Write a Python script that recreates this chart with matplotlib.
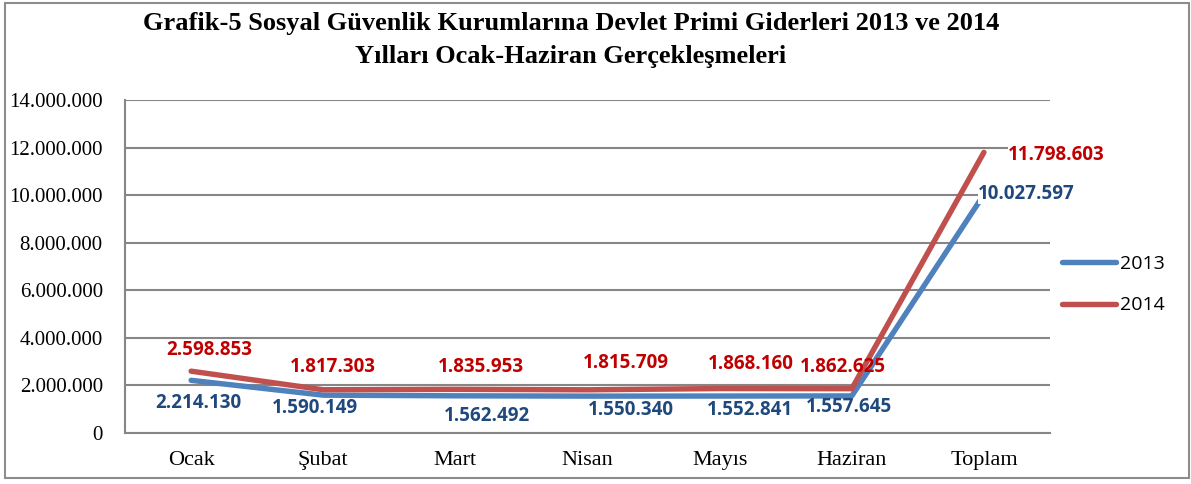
import matplotlib
matplotlib.use("Agg")
import matplotlib.pyplot as plt
from matplotlib.patches import Rectangle
from matplotlib.ticker import FuncFormatter

months = ["Ocak", "Şubat", "Mart", "Nisan", "Mayıs", "Haziran", "Toplam"]
y2013 = [2214130, 1590149, 1562492, 1550340, 1552841, 1557645, 10027597]
y2014 = [2598853, 1817303, 1835953, 1815709, 1868160, 1862625, 11798603]
label_2013 = ["2.214.130", "1.590.149", "1.562.492", "1.550.340", "1.552.841", "1.557.645", "10.027.597"]
label_2014 = ["2.598.853", "1.817.303", "1.835.953", "1.815.709", "1.868.160", "1.862.625", "11.798.603"]

# label offsets in pixels (dx, dy) from each point, as placed in the original
off_2013 = [(7, -23), (-8, -13), (32, -20), (43, -14), (30, -14), (-3, -11), (42, 0)]
off_2014 = [(18, 21), (10, 23), (26, 22), (38, 27), (31, 25), (-9, 22), (72, -3)]

BLUE = "#4F81BD"
RED = "#C0504D"
GRID = "#868686"

fig = plt.figure(figsize=(11.91, 4.84), dpi=100)
fig.patches.append(Rectangle((0.004, 0.012), 0.994, 0.982, transform=fig.transFigure,
                             fill=False, edgecolor="#8c8c8c", linewidth=1.5))

ax = fig.add_axes([0.105, 0.1054, 0.7766, 0.688])
x = range(len(months))
ax.plot(x, y2013, color=BLUE, linewidth=3.9, solid_capstyle="round", label="2013", zorder=3)
ax.plot(x, y2014, color=RED, linewidth=3.9, solid_capstyle="round", label="2014", zorder=3)

lab_font = dict(family="Open Sans", fontweight="bold", fontsize=13.5)
for i in x:
    ax.annotate(label_2013[i], (i, y2013[i]), xytext=off_2013[i], textcoords="offset pixels",
                ha="center", va="center", color="#1F497D", zorder=4,
                bbox=dict(facecolor="white", edgecolor="none", pad=0) if i == 6 else None,
                **lab_font)
    ax.annotate(label_2014[i], (i, y2014[i]), xytext=off_2014[i], textcoords="offset pixels",
                ha="center", va="center", color="#C00000", zorder=4,
                bbox=dict(facecolor="white", edgecolor="none", pad=0) if i == 6 else None,
                **lab_font)

ax.set_xlim(-0.5, 6.5)
ax.set_ylim(0, 14000000)
ax.set_yticks(range(0, 14000001, 2000000))
ax.yaxis.set_major_formatter(FuncFormatter(lambda v, p: f"{int(v):,}".replace(",", ".")))
ax.set_xticks(list(x))
ax.set_xticklabels(months)
for lbl in ax.get_xticklabels():
    lbl.set_family("Liberation Serif")
    lbl.set_fontsize(16)
for lbl in ax.get_yticklabels():
    lbl.set_family("Liberation Serif")
    lbl.set_fontsize(15)
ax.tick_params(length=0, pad=13)
ax.tick_params(axis="y", pad=16)
ax.grid(axis="y", color=GRID, linewidth=1.5)
ax.set_axisbelow(True)
for s in ["top", "right"]:
    ax.spines[s].set_visible(False)
for s in ["left", "bottom"]:
    ax.spines[s].set_color(GRID)
    ax.spines[s].set_linewidth(1.5)

leg = ax.legend(loc="center left", bbox_to_anchor=(0.994, 0.445), frameon=False,
                prop=dict(family="Open Sans", size=14), handlelength=2.8, labelspacing=1.2,
                handletextpad=0.2)

fig.text(0.4795, 0.975, "Grafik-5 Sosyal Güvenlik Kurumlarına Devlet Primi Giderleri 2013 ve 2014\n"
         "Yılları Ocak-Haziran Gerçekleşmeleri", ha="center", va="top",
         family="Liberation Serif", fontweight="bold", fontsize=19, linespacing=1.55)

fig.savefig("out.png", dpi=100)
